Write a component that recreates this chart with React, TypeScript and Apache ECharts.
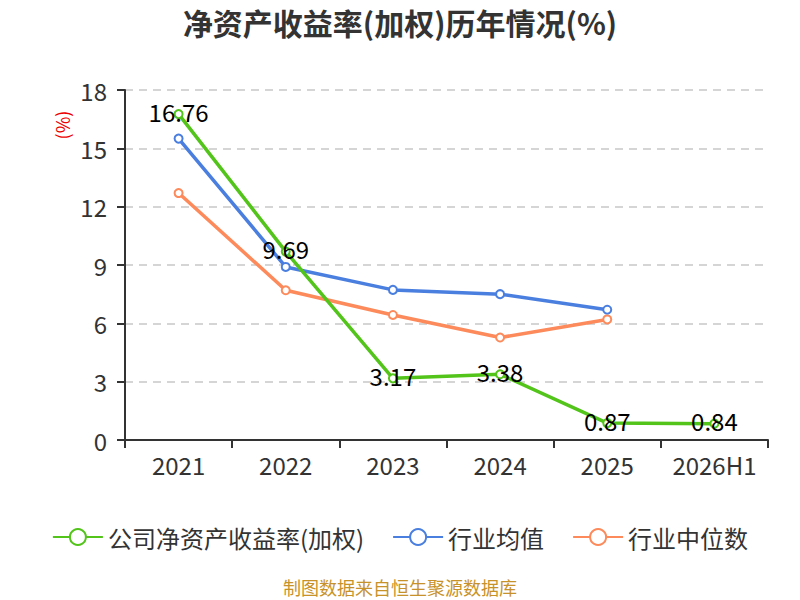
import { useEffect, useRef } from "react";
import * as echarts from "echarts";

const years = ["2021", "2022", "2023", "2024", "2025", "2026H1"];
const companyRoe = [16.76, 9.69, 3.17, 3.38, 0.87, 0.84];
const industryAvg = [15.5, 8.9, 7.72, 7.5, 6.7, null];
const industryMedian = [12.7, 7.7, 6.43, 5.27, 6.2, null];

const FONT = "'Noto Sans CJK SC', 'Noto Sans', sans-serif";

export default function App() {
  const chartRef = useRef<HTMLDivElement>(null);

  useEffect(() => {
    if (!chartRef.current) return;
    const chart = echarts.init(chartRef.current, null, { renderer: "svg" });

    const lineSeries = (name: string, data: (number | null)[], color: string, withLabel: boolean) => ({
      name,
      type: "line",
      data,
      symbol: "emptyCircle",
      symbolSize: 8,
      lineStyle: { width: 3.5, color },
      itemStyle: { color, borderWidth: 2 },
      label: withLabel
        ? { show: true, position: "inside", offset: [0, -3], fontSize: 24, color: "#000", fontFamily: FONT }
        : { show: false },
      z: withLabel ? 3 : 2,
    });

    chart.setOption({
      animation: false,
      backgroundColor: "#fff",
      textStyle: { fontFamily: FONT },
      title: {
        text: "净资产收益率(加权)历年情况(%)",
        left: "center",
        top: 2,
        textStyle: { fontSize: 30, fontWeight: "bold", color: "#333", fontFamily: FONT },
      },
      legend: {
        bottom: 46,
        left: "center",
        itemWidth: 50,
        itemHeight: 20,
        itemGap: 28,
        textStyle: { fontSize: 24, color: "#333", fontFamily: FONT },
        data: ["公司净资产收益率(加权)", "行业均值", "行业中位数"],
      },
      grid: { left: 125, right: 32, top: 90, bottom: 160 },
      xAxis: {
        type: "category",
        data: years,
        axisLine: { lineStyle: { color: "#333", width: 2 } },
        axisTick: { show: true, length: 8, lineStyle: { color: "#333", width: 2 } },
        axisLabel: { fontSize: 24, color: "#333", margin: 12, interval: 0, fontFamily: FONT },
      },
      yAxis: {
        type: "value",
        min: 0,
        max: 18,
        interval: 3,
        axisLine: { show: true, lineStyle: { color: "#333", width: 2 } },
        axisTick: { show: true, length: 8, lineStyle: { color: "#333", width: 2 } },
        axisLabel: { fontSize: 24, color: "#333", margin: 18, fontFamily: FONT },
        splitLine: { lineStyle: { type: [8, 6], color: "#c8c8c8", width: 1.5 } },
      },
      graphic: [
        {
          type: "text",
          x: 62,
          y: 125,
          rotation: Math.PI / 2,
          style: {
            text: "(%)",
            fill: "#e00",
            fontSize: 18,
            fontFamily: FONT,
            align: "center",
            verticalAlign: "middle",
          },
        },
        {
          type: "text",
          left: "center",
          top: 578,
          style: { text: "制图数据来自恒生聚源数据库", fill: "#c8922a", fontSize: 18, fontFamily: FONT },
        },
      ],
      series: [
        lineSeries("公司净资产收益率(加权)", companyRoe, "#52c41a", true),
        lineSeries("行业均值", industryAvg, "#4a7fe0", false),
        lineSeries("行业中位数", industryMedian, "#fd8a5b", false),
      ],
    });

    return () => chart.dispose();
  }, []);

  return (
    <div
      ref={chartRef}
      style={{ position: "absolute", left: 0, top: 0, width: 800, height: 600 }}
    />
  );
}
